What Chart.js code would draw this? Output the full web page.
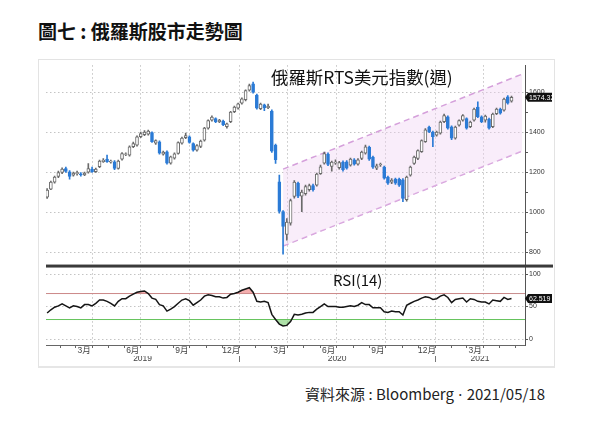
<!DOCTYPE html>
<html lang="zh-Hant">
<head>
<meta charset="UTF-8">
<title>圖七 : 俄羅斯股市走勢圖</title>
<script src="https://cdn.jsdelivr.net/npm/chart.js"></script>
<style>
    * { box-sizing: border-box; }
    body {
        margin: 0; background: #fff;
        width: 593px; height: 436px;
        position: relative; overflow: hidden;
        font-family: 'Noto Sans CJK TC', 'Noto Sans', sans-serif;
        color: #111;
    }
    .title { position: absolute; left: 38px; top: 21px; font-size: 19px; font-weight: bold; line-height: 1; }
    .frame { position: absolute; left: 38px; top: 59px; width: 517px; height: 309px; border: 1px solid #e3e3e3; border-bottom: 2px solid #e6e6e6; }
    #chart { position: absolute; left: 39px; top: 60px; }
    .chart-title { position: absolute; left: 271px; top: 68px; font-size: 17.4px; line-height: 1; }
    .rsi-title { position: absolute; left: 333px; top: 272px; font-size: 15px; line-height: 1; }
    .source { position: absolute; right: 48px; top: 386px; font-size: 15px; line-height: 1; color: #222; }
    .source .dot { font-family: 'Noto Sans', sans-serif; margin: 0 1px; }
</style>
</head>
<body>
<div class="title">圖七 : 俄羅斯股市走勢圖</div>
<div class="frame"></div>
<canvas id="chart" width="515" height="307"></canvas>
<div class="chart-title">俄羅斯RTS美元指數(週)</div>
<div class="rsi-title">RSI(14)</div>
<div class="source">資料來源 : Bloomberg <span class="dot">·</span> 2021/05/18</div>

<script>
// weekly candles, first week 2019-01-07
const firstWeek = Date.UTC(2019, 0, 7);

const openPx = [1075,1115,1150,1178,1198,1218,1202,1185,1192,1192,
    1186,1200,1215,1202,1227,1252,1265,1250,1252,1218,
    1265,1288,1285,1327,1335,1377,1388,1390,1398,1345,
    1352,1290,1302,1245,1270,1293,1345,1373,1377,1343,
    1310,1328,1360,1420,1460,1468,1452,1455,1428,1452,
    1502,1520,1545,1562,1610,1642,1585,1518,1537,1522,
    1505,1335,1152,1002,888,945,1078,1145,1080,1092,
    1112,1133,1135,1192,1245,1290,1228,1245,1222,1250,
    1252,1235,1262,1240,1268,1295,1325,1275,1220,1236,
    1225,1175,1150,1165,1165,1162,1062,1185,1243,1268,
    1302,1352,1425,1400,1385,1395,1452,1477,1427,1370,
    1435,1460,1468,1428,1460,1525,1477,1460,1465,1428,
    1493,1516,1510,1577,1555];
const highPx = [1118,1155,1180,1205,1222,1225,1208,1200,1205,1198,
    1200,1243,1225,1220,1260,1268,1285,1260,1258,1260,
    1298,1296,1332,1350,1382,1400,1408,1410,1402,1362,
    1356,1305,1306,1280,1296,1352,1375,1395,1382,1346,
    1338,1360,1424,1462,1482,1472,1464,1460,1446,1504,
    1530,1546,1572,1612,1640,1650,1590,1545,1541,1540,
    1512,1340,1185,1008,968,1065,1158,1150,1110,1135,
    1140,1140,1195,1235,1300,1296,1255,1262,1254,1256,
    1258,1270,1268,1268,1305,1335,1330,1280,1240,1245,
    1230,1180,1168,1170,1170,1168,1180,1230,1280,1312,
    1362,1418,1430,1405,1405,1455,1490,1482,1432,1430,
    1462,1488,1472,1456,1520,1552,1482,1485,1470,1495,
    1520,1520,1570,1583,1580];
const lowPx = [1068,1112,1145,1172,1192,1198,1165,1180,1185,1180,
    1182,1195,1198,1198,1222,1248,1248,1245,1212,1215,
    1260,1282,1280,1322,1330,1372,1382,1385,1348,1338,
    1290,1285,1240,1240,1265,1290,1340,1368,1345,1305,
    1305,1322,1355,1415,1455,1448,1447,1432,1420,1448,
    1498,1515,1540,1556,1605,1595,1515,1512,1508,1518,
    1298,1243,995,790,860,935,1070,1072,1002,1085,
    1105,1105,1130,1188,1240,1232,1205,1238,1215,1205,
    1215,1230,1235,1235,1262,1290,1258,1218,1212,1228,
    1165,1138,1142,1138,1128,1052,1055,1180,1238,1262,
    1298,1348,1398,1327,1380,1390,1448,1415,1362,1365,
    1430,1455,1415,1422,1455,1472,1448,1450,1415,1422,
    1488,1490,1505,1540,1550];
const closePx = [1110,1150,1175,1198,1215,1203,1178,1195,1198,1186,
    1195,1218,1202,1215,1255,1260,1252,1255,1218,1255,
    1293,1292,1327,1343,1377,1393,1400,1405,1352,1358,
    1295,1300,1245,1277,1292,1348,1370,1383,1348,1310,
    1333,1355,1420,1458,1476,1453,1460,1437,1442,1500,
    1525,1542,1567,1608,1633,1600,1520,1540,1522,1530,
    1305,1262,1003,928,950,1058,1150,1080,1100,1128,
    1133,1112,1190,1227,1293,1238,1250,1250,1248,1212,
    1220,1265,1240,1262,1300,1327,1265,1225,1232,1240,
    1170,1145,1160,1145,1135,1068,1175,1225,1275,1308,
    1358,1412,1403,1378,1400,1450,1483,1420,1370,1425,
    1458,1483,1420,1450,1515,1478,1453,1480,1420,1490,
    1515,1495,1565,1545,1574.32];
const rsi14 = [40,45,49,51,54,51,48,51,50,48,
    53,53,51,55,60,60,58,55,51,58,
    62,62,66,69,72,73,74,70,63,61,
    53,51,43,46,50,55,60,62,59,52,
    56,60,66,68,67,65,65,63,64,69,
    70,72,75,77,79,72,58,57,58,56,
    38,30,23,20,21,27,38,37,38,40,
    41,41,46,50,54,50,50,50,49,49,
    50,51,50,52,56,53,53,48,48,48,
    42,41,43,42,42,37,52,55,58,60,
    63,65,64,61,62,66,68,64,56,61,
    62,63,57,62,61,58,57,57,54,60,
    59,58,64,61,62.519];
const rsiBands = [70, 30];

// trend channel (week index / price)
const channelWeeks = [63, 126.8];
const channelTop = [1215, 1690];
const channelBottom = [830, 1305];

const priceTicks = [800, 900, 1000, 1100, 1200, 1300, 1400, 1500, 1600];
const rsiTicks = [0, 25, 50, 75, 100];
const years = [2019, 2020, 2021];

const xMin = -0.3, xMax = 127.6;
const weekOf = (y, m) => (Date.UTC(y, m - 1, 1) - firstWeek) / 6048e5;

const monthTicks = [];
years.forEach(y => {
    for (let m = 1; m <= 12; m++) {
        const w = weekOf(y, m);
        if (w <= xMin || w >= xMax) continue;
        const prev = m === 1 ? 12 : m - 1;
        monthTicks.push({ value: w, label: prev % 3 === 0 ? prev + '月' : '', quarter: (m - 1) % 3 === 0 });
    }
});
const yearTicks = [];
years.forEach(y => {
    const a = Math.max(xMin, weekOf(y, 1)), b = Math.min(xMax, weekOf(y + 1, 1));
    yearTicks.push({ value: (a + b) / 2, label: String(y), sep: false });
    if (weekOf(y, 1) > xMin) yearTicks.push({ value: weekOf(y, 1), label: '', sep: true });
});
yearTicks.sort((a, b) => a.value - b.value);

const BLUE = '#2b7bd6', OUTLINE = '#6a6a6a', GRID = '#c4c4c4';
const isUp = i => closePx[i] >= openPx[i];

const bodies = closePx.map((c, i) => ({ x: i, y: [openPx[i], c] }));
const wicks = closePx.map((c, i) => ({ x: i, y: [lowPx[i], highPx[i]] }));
const rsiPoints = rsi14.map((v, i) => ({ x: i, y: v }));

function tag(ctx, x, y, text) {
    ctx.fillStyle = '#111';
    ctx.beginPath();
    ctx.moveTo(x, y);
    ctx.lineTo(x + 3, y - 4.5);
    ctx.lineTo(x + 27, y - 4.5);
    ctx.lineTo(x + 27, y + 4.5);
    ctx.lineTo(x + 3, y + 4.5);
    ctx.closePath();
    ctx.fill();
    ctx.fillStyle = '#fff';
    ctx.font = '7px "Liberation Sans", Arial, sans-serif';
    ctx.textBaseline = 'middle';
    ctx.textAlign = 'left';
    ctx.fillText(text, x + 4, y + 0.5);
}

const extras = {
    id: 'extras',
    afterDraw(chart) {
        const { ctx, chartArea, scales } = chart;
        ctx.save();
        ctx.fillStyle = '#3a3a3a';
        ctx.fillRect(chartArea.left, scales.y.bottom - 1.5, chartArea.right - chartArea.left + 28, 3);
        const n = closePx.length - 1;
        tag(ctx, chartArea.right, scales.y.getPixelForValue(closePx[n]), closePx[n].toFixed(2));
        tag(ctx, chartArea.right, scales.y2.getPixelForValue(rsi14[n]), rsi14[n].toFixed(3));
        ctx.restore();
    }
};

Chart.defaults.font.family = "'Liberation Sans', 'Noto Sans CJK TC', sans-serif";
Chart.defaults.color = '#444';

new Chart(document.getElementById('chart'), {
    type: 'line',
    data: {
        datasets: [
            {
                type: 'bar', data: bodies, yAxisID: 'y', order: 1,
                grouped: false, barThickness: 3, borderWidth: 1, borderSkipped: false,
                backgroundColor: c => isUp(c.dataIndex) ? '#fff' : BLUE,
                borderColor: c => isUp(c.dataIndex) ? OUTLINE : BLUE
            },
            {
                type: 'bar', data: wicks, yAxisID: 'y', order: 2,
                grouped: false, barThickness: 1, borderWidth: 0,
                backgroundColor: c => isUp(c.dataIndex) ? OUTLINE : BLUE
            },
            {
                data: channelWeeks.map((w, i) => ({ x: w, y: channelTop[i] })), yAxisID: 'y', order: 10,
                borderColor: '#d5a0db', borderWidth: 1.5, borderDash: [6, 4], pointRadius: 0,
                fill: '+1', backgroundColor: 'rgba(240, 210, 242, 0.4)'
            },
            {
                data: channelWeeks.map((w, i) => ({ x: w, y: channelBottom[i] })), yAxisID: 'y', order: 11,
                borderColor: '#d5a0db', borderWidth: 1.5, borderDash: [6, 4], pointRadius: 0, fill: false
            },
            {
                data: rsiPoints, yAxisID: 'y2', order: 3,
                borderColor: '#151515', borderWidth: 1.5, pointRadius: 0,
                fill: { target: { value: rsiBands[0] }, above: 'rgba(236, 120, 120, 0.6)', below: 'rgba(0,0,0,0)' }
            },
            {
                data: rsiPoints, yAxisID: 'y2', order: 4,
                borderWidth: 0, borderColor: 'rgba(0,0,0,0)', pointRadius: 0,
                fill: { target: { value: rsiBands[1] }, above: 'rgba(0,0,0,0)', below: 'rgba(120, 205, 110, 0.6)' }
            },
            {
                data: [{ x: xMin, y: rsiBands[0] }, { x: xMax, y: rsiBands[0] }], yAxisID: 'y2', order: 6,
                borderColor: '#c68c8c', borderWidth: 1, pointRadius: 0, fill: false
            },
            {
                data: [{ x: xMin, y: rsiBands[1] }, { x: xMax, y: rsiBands[1] }], yAxisID: 'y2', order: 6,
                borderColor: '#62c25a', borderWidth: 1, pointRadius: 0, fill: false
            }
        ]
    },
    options: {
        responsive: false,
        animation: false,
        layout: { padding: { left: 7, top: 5, right: 0, bottom: 1 } },
        plugins: { legend: { display: false }, tooltip: { enabled: false } },
        scales: {
            x: {
                type: 'linear', position: 'bottom', weight: 0,
                min: xMin, max: xMax, offset: false,
                afterBuildTicks: s => { s.ticks = monthTicks.map(t => ({ value: t.value })); },
                afterFit: s => { s.height = 11; },
                grid: {
                    offset: false, drawOnChartArea: true, tickLength: 3,
                    color: c => (monthTicks[c.index] && monthTicks[c.index].quarter) ? GRID : 'rgba(0,0,0,0)',
                    tickColor: '#666'
                },
                border: { display: true, color: '#666', dash: [1.5, 2.5] },
                ticks: {
                    autoSkip: false, maxRotation: 0, minRotation: 0, padding: -2.2, labelOffset: -8,
                    font: { size: 8.5 }, color: '#444',
                    callback: (v, i) => monthTicks[i] ? monthTicks[i].label : ''
                }
            },
            x2: {
                type: 'linear', position: 'bottom', weight: 1,
                min: xMin, max: xMax, offset: false,
                afterBuildTicks: s => { s.ticks = yearTicks.map(t => ({ value: t.value })); },
                afterFit: s => { s.height = 10; },
                grid: {
                    offset: false, drawOnChartArea: false, tickLength: 6,
                    tickColor: c => (yearTicks[c.index] && yearTicks[c.index].sep) ? '#777' : 'rgba(0,0,0,0)'
                },
                border: { display: false },
                ticks: {
                    autoSkip: false, maxRotation: 0, minRotation: 0, padding: -8,
                    font: { size: 8.5 }, color: '#444',
                    callback: (v, i) => yearTicks[i] ? yearTicks[i].label : ''
                }
            },
            y: {
                type: 'linear', position: 'right', stack: 'panels', stackWeight: 201, weight: 0,
                min: 730, max: 1735,
                afterBuildTicks: s => { s.ticks = priceTicks.map(v => ({ value: v })); },
                afterFit: s => { s.width = 29; },
                grid: {
                    tickLength: 3, tickColor: '#555',
                    color: c => (c.tick && c.tick.value % 200 === 0) ? GRID : 'rgba(0,0,0,0)'
                },
                border: { display: true, color: '#555', dash: [1.5, 2.5] },
                ticks: {
                    padding: 1, font: { size: 7 }, color: '#333',
                    callback: v => v % 200 === 0 ? String(v) : ''
                }
            },
            y2: {
                type: 'linear', position: 'right', stack: 'panels', stackWeight: 79, weight: 1,
                min: -9.2, max: 112.3,
                afterBuildTicks: s => { s.ticks = rsiTicks.map(v => ({ value: v })); },
                afterFit: s => { s.width = 29; },
                grid: {
                    tickLength: 3, tickColor: '#555',
                    color: c => (c.tick && c.tick.value % 50 === 0) ? GRID : 'rgba(0,0,0,0)'
                },
                border: { display: true, color: '#555', dash: [1.5, 2.5] },
                ticks: {
                    padding: 1, font: { size: 7 }, color: '#333',
                    callback: v => v % 50 === 0 ? String(v) : ''
                }
            }
        }
    },
    plugins: [extras]
});
</script>
</body>
</html>
